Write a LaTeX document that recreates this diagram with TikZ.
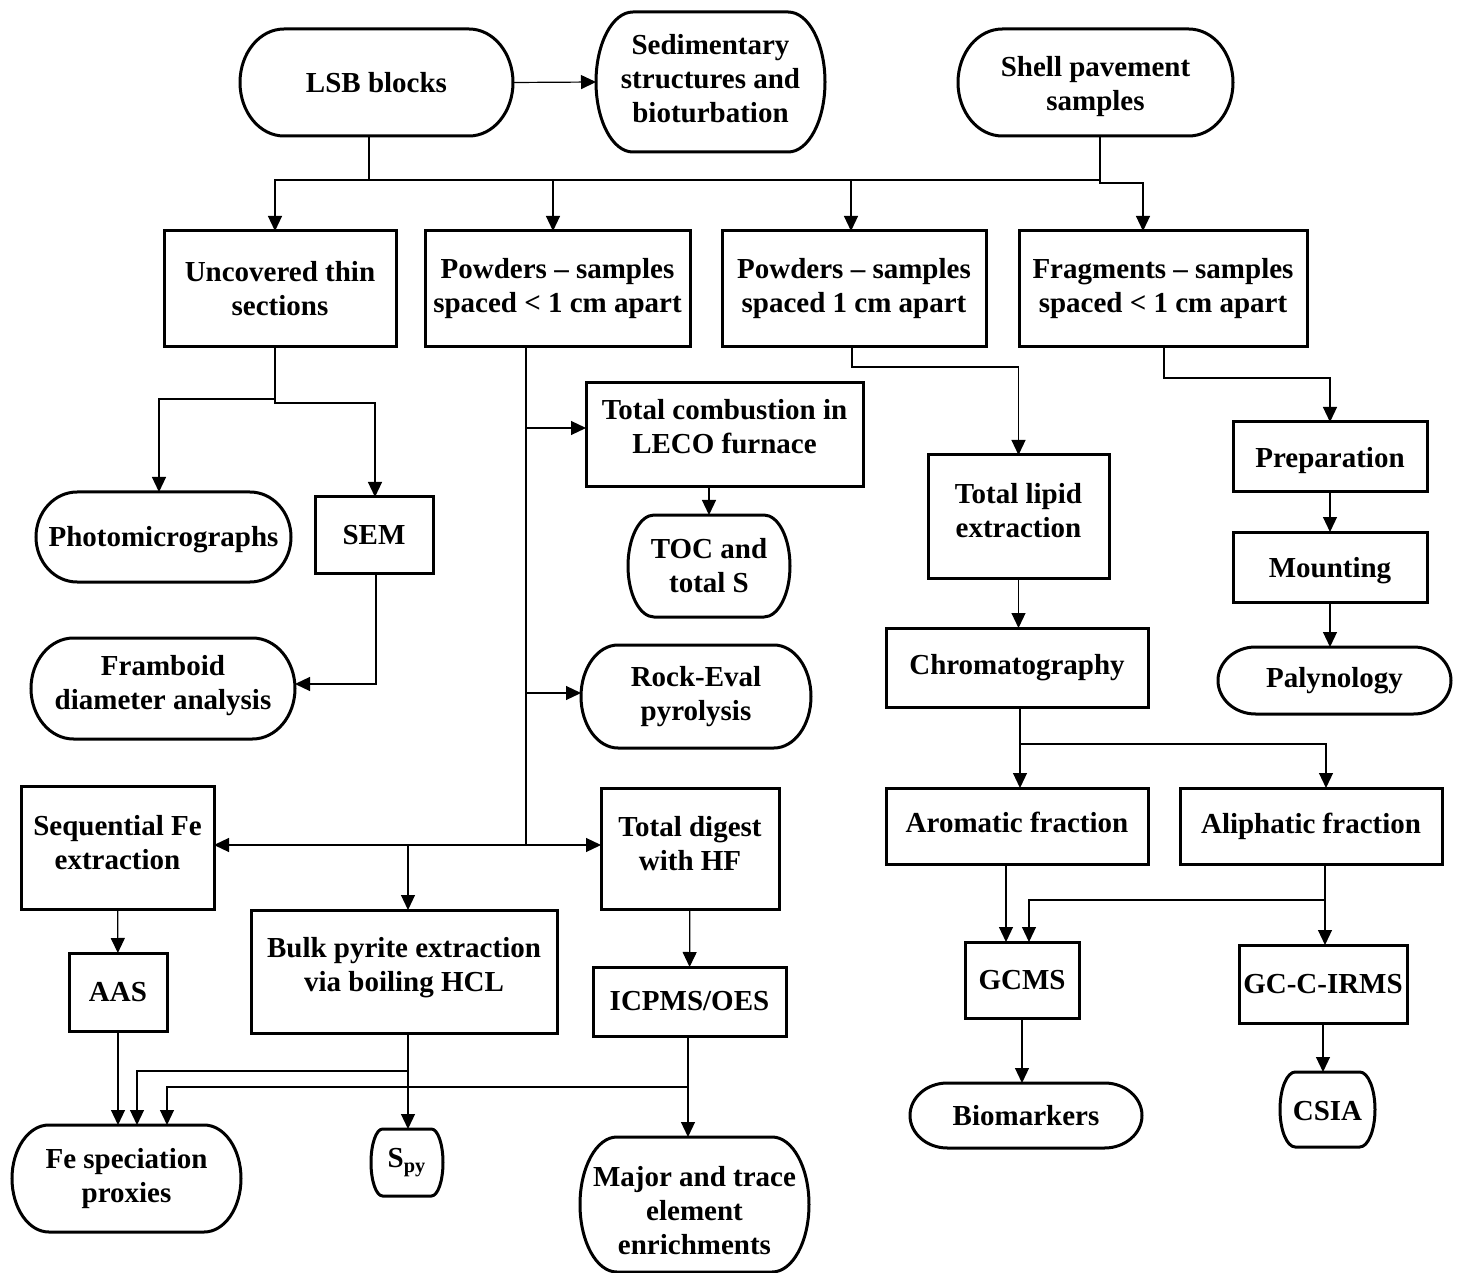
\documentclass[tikz,border=0pt]{standalone}
\usepackage{fontspec}
\setmainfont{Liberation Serif}
\usetikzlibrary{arrows.meta}
\tikzset{
  border/.style={line width=1.5pt, line join=miter},
  lbl/.style={inner sep=0pt, outer sep=0pt, align=center, font=\fontsize{14.5pt}{17pt}\selectfont\bfseries},
  conn/.style={line width=0.6pt},
  arr/.style={conn, -{Triangle[length=7.5pt,width=7pt]}},
}
% rectangle box: [text options], name, x1, y1, x2, y2, text
\newcommand\RB[7][]{%
  \node[lbl, minimum width={(#5-#3)*0.5pt}, minimum height={(#6-#4)*0.5pt}] (#2) at ({(#3+#5)/2},{(#4+#6)/2}) {};
  \draw[border] (#2.south west) rectangle (#2.north east);
  \node[lbl, #1] at (#2.center) {#7};
}
% terminator box
\newcommand\TB[7][]{%
  \node[lbl, minimum width={(#5-#3)*0.5pt}, minimum height={(#6-#4)*0.5pt}] (#2) at ({(#3+#5)/2},{(#4+#6)/2}) {};
  \node[lbl, #1] at (#2.center) {#7};
  \pgfmathsetmacro\tbrx{0.161*(#5-#3)}%
  \pgfmathsetmacro\tbry{(#6-#4)/2}%
  \draw[border] ({#3+\tbrx},#4) -- ({#5-\tbrx},#4) arc[start angle=-90,end angle=90,x radius=\tbrx,y radius=\tbry] -- ({#3+\tbrx},#6) arc[start angle=90,end angle=270,x radius=\tbrx,y radius=\tbry] -- cycle;
}
\begin{document}
\begin{tikzpicture}[x=0.5pt,y=-0.5pt]
\useasboundingbox (0,0) rectangle (1458,1273);
% ---- nodes ----
\TB{lsb}{240}{29}{513}{136}{LSB blocks}
\TB[yshift=1.5pt]{sed}{596}{12}{825}{152}{Sedimentary\\structures and\\bioturbation}
\TB[yshift=-2pt]{shell}{958}{29}{1233}{136}{Shell pavement\\samples}
\RB{unc}{164}{231}{396}{347}{Uncovered thin\\sections}
\RB{pw1}{425}{231}{690}{347}{Powders -- samples\\spaced < 1 cm apart}
\RB{pw2}{722}{231}{986}{347}{Powders -- samples\\spaced 1 cm apart}
\RB{frag}{1019}{231}{1307}{347}{Fragments -- samples\\spaced < 1 cm apart}
\TB[yshift=-1.5pt]{photo}{36}{492}{291}{582}{Photomicrographs}
\RB{sem}{315}{497}{433}{573}{SEM}
\TB[yshift=1.5pt]{fram}{31}{638}{295}{739}{Framboid\\diameter analysis}
\RB[yshift=4pt]{tc}{586}{383}{863}{487}{Total combustion in\\LECO furnace}
\TB{toc}{628}{515}{790}{617}{TOC and\\total S}
\TB{rock}{581}{645}{811}{748}{Rock-Eval\\pyrolysis}
\RB[yshift=3pt]{tl}{928}{455}{1109}{578}{Total lipid\\extraction}
\RB{chrom}{886}{628}{1148}{707}{Chromatography}
\RB[yshift=-2pt]{prep}{1233}{422}{1427}{492}{Preparation}
\RB[yshift=-2pt]{mount}{1233}{532}{1427}{602}{Mounting}
\TB{paly}{1218}{647}{1451}{714}{Palynology}
\RB[yshift=2.5pt]{seq}{21}{786}{214}{909}{Sequential Fe\\extraction}
\RB[yshift=2.5pt]{td}{601}{788}{779}{909}{Total digest\\with HF}
\RB[yshift=2pt]{bulk}{251}{910}{557}{1033}{Bulk pyrite extraction\\via boiling HCL}
\RB{aas}{69}{953}{167}{1031}{AAS}
\RB{icp}{593}{967}{786}{1036}{ICPMS/OES}
\TB{fe}{12}{1125}{241}{1232}{Fe speciation\\proxies}
\TB{spy}{371}{1129}{443}{1196}{S\textsubscript{py}}
\TB[yshift=-3pt]{major}{580}{1137}{809}{1272}{Major and trace\\element\\enrichments}
\RB[yshift=2pt]{aro}{886}{788}{1148}{864}{Aromatic fraction}
\RB{ali}{1180}{788}{1442}{864}{Aliphatic fraction}
\RB{gcms}{965}{942}{1079}{1018}{GCMS}
\RB{gcc}{1239}{945}{1407}{1023}{GC-C-IRMS}
\TB{bio}{910}{1083}{1142}{1148}{Biomarkers}
\TB[yshift=-1pt]{csia}{1280}{1072}{1375}{1147}{CSIA}
% ---- junction coordinates ----
\coordinate (b1) at (369,180);
\coordinate (b2) at (1100,180);
\coordinate (bL) at (275,180);
\coordinate (bP1) at (553,180);
\coordinate (bP2) at (851,180);
\coordinate (f1) at (1143,183);
\coordinate (u1) at (275,399);
\coordinate (u2) at (159,399);
\coordinate (u3) at (275,403);
\coordinate (u4) at (375,403);
\coordinate (s1) at (376,684);
\coordinate (p1) at (526,845);
\coordinate (p2) at (526,428);
\coordinate (p3) at (526,693);
\coordinate (p4) at (408,845);
\coordinate (q1) at (852,367);
\coordinate (r1) at (1164,378);
\coordinate (c1) at (1020,744);
\coordinate (c2) at (1326,744);
\coordinate (xg) at (1006,900);
\coordinate (a1) at (1325,900);
\coordinate (a2) at (1029,900);
\coordinate (k1) at (408,1071);
\coordinate (k2) at (137,1071);
\coordinate (m1) at (688,1087);
\coordinate (m2) at (167,1087);
% ---- connectors ----
\draw[arr] (lsb.east) -- (sed.west);
\draw[conn] (lsb.south -| b1) -- (b1);
\draw[conn] (shell.south -| b2) -- (b2);
\draw[arr] (b2) -- (bL) -- (unc.north -| bL);
\draw[arr] (bP1) -- (pw1.north -| bP1);
\draw[arr] (bP2) -- (pw2.north -| bP2);
\draw[arr] (b2) |- (f1) -- (frag.north -| f1);
\draw[arr] (unc.south -| u1) -- (u1) -- (u2) -- (photo.north -| u2);
\draw[arr] (u1) -- (u3) -- (u4) -- (sem.north -| u4);
\draw[arr] (sem.south -| s1) -- (s1) -- (fram.east |- s1);
\draw[conn] (pw1.south -| p1) -- (p1);
\draw[arr] (p2) -- (tc.west |- p2);
\draw[arr] (p3) -- (rock.west |- p3);
\draw[arr] (p1) -- (seq.east |- p1);
\draw[arr] (p1) -- (td.west |- p1);
\draw[arr] (p4) -- (bulk.north -| p4);
\draw[arr] (tc.south -| toc.north) -- (toc.north);
\draw[arr] (pw2.south -| q1) -- (q1) -| (tl.north);
\draw[arr] (frag.south -| r1) -- (r1) -| (prep.north);
\draw[arr] (prep) -- (mount);
\draw[arr] (mount.south) -- (paly.north -| mount.south);
\draw[arr] (tl.south) -- (chrom.north -| tl.south);
\draw[arr] (chrom.south -| c1) -- (aro.north -| c1);
\draw[arr] (c1) -- (c2) -- (ali.north -| c2);
\draw[arr] (aro.south -| xg) -- (gcms.north -| xg);
\draw[arr] (ali.south -| a1) -- (gcc.north -| a1);
\draw[arr] (a1) -- (a2) -- (gcms.north -| a2);
\draw[arr] (gcms.south) -- (bio.north -| gcms.south);
\draw[arr] (gcc.south) -- (csia.north -| gcc.south);
\draw[arr] (seq) -- (aas);
\draw[arr] (td) -- (icp);
\draw[arr] (aas.south) -- (fe.north -| aas.south);
\draw[arr] (bulk.south -| k1) -- (spy.north -| k1);
\draw[arr] (k1) -- (k2) -- (fe.north -| k2);
\draw[arr] (icp.south -| m1) -- (major.north -| m1);
\draw[arr] (m1) -- (m2) -- (fe.north -| m2);
\end{tikzpicture}
\end{document}
